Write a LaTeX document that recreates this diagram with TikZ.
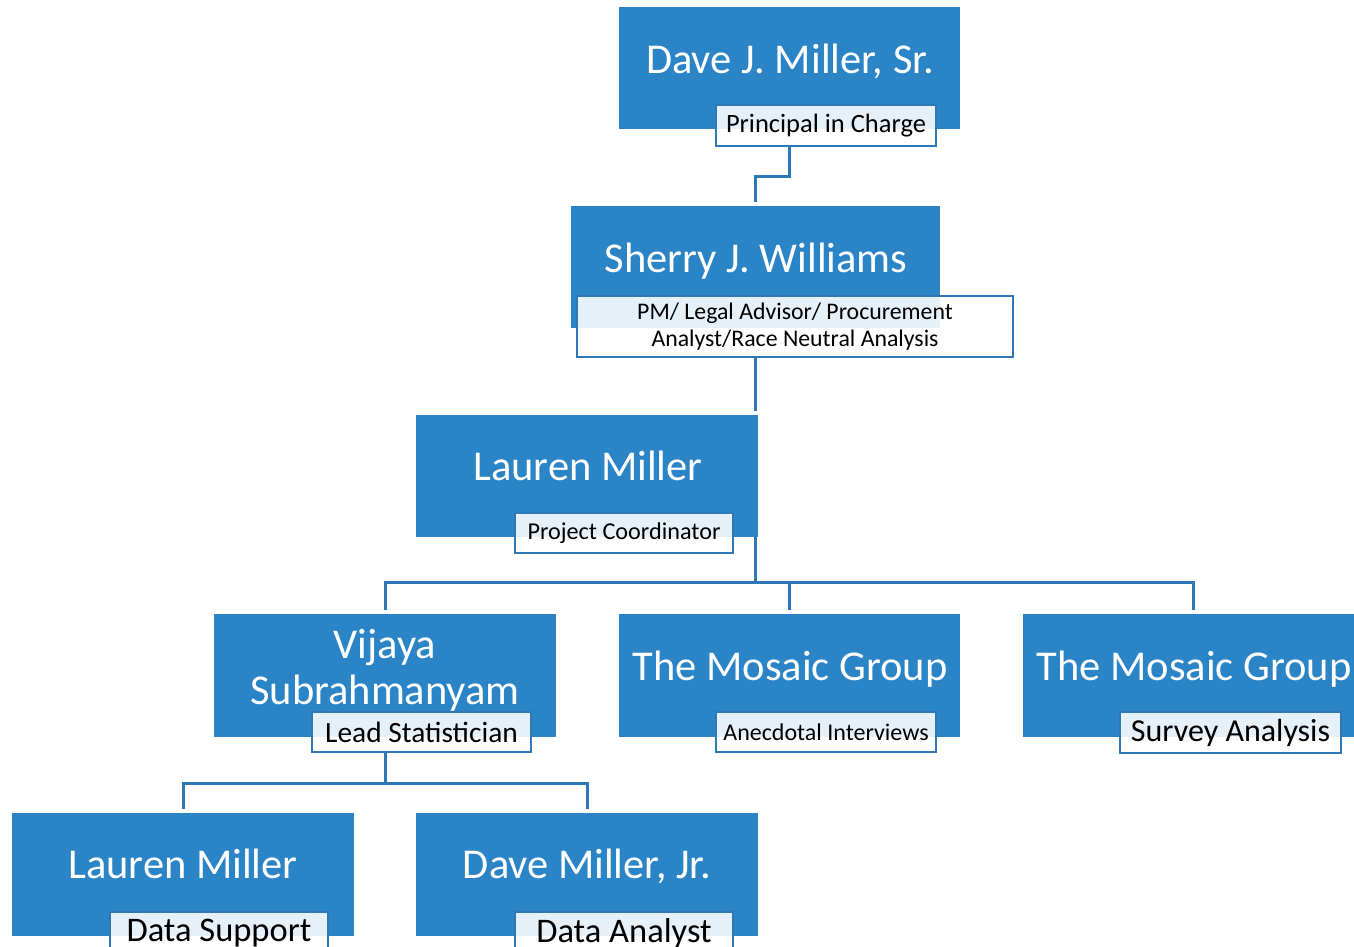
\documentclass[tikz,border=0pt]{standalone}
\usepackage{fontspec}
\setmainfont{Carlito}
\definecolor{boxblue}{HTML}{2A84C6}
\definecolor{tint}{HTML}{E6F0F8}
\definecolor{lineblue}{HTML}{2E78B8}
\begin{document}
\begin{tikzpicture}[x=1pt,y=-1pt,
  box/.style={fill=boxblue, inner sep=0pt},
  namet/.style={text=white, font=\fontsize{42.5}{46}\selectfont, anchor=base, inner sep=0pt},
  lab/.style={fill=white, draw=lineblue, line width=2.5pt, inner sep=0pt, text=black,
    path picture={\fill[tint] (#1.south west) rectangle (#1.north east);}},
  conn/.style={draw=lineblue, line width=3pt},
]
\useasboundingbox (0,0) rectangle (1354,946);
\clip (0,0) rectangle (1354,946);

% boxes
\node[box, minimum width=341pt, minimum height=122pt] (b1) at (789.5,68) {};
\node[box, minimum width=369pt, minimum height=122pt] (b2) at (755.5,267) {};
\node[box, minimum width=342pt, minimum height=122pt] (b3) at (587,476) {};
\node[box, minimum width=342pt, minimum height=123pt] (b4) at (385,675.5) {};
\node[box, minimum width=341pt, minimum height=123pt] (b5) at (789.5,675.5) {};
\node[box, minimum width=341pt, minimum height=123pt] (b6) at (1193.5,675.5) {};
\node[box, minimum width=342pt, minimum height=123pt] (b7) at (183,874.5) {};
\node[box, minimum width=342pt, minimum height=123pt] (b8) at (587,874.5) {};

% labels
\node[lab=b1, minimum width=220pt, minimum height=41pt, font=\fontsize{26.5}{30}\selectfont] (l1) at (826,125.5) {Principal in Charge};
\node[lab=b2, minimum width=436pt, minimum height=61pt, align=center, font=\fontsize{23.8}{27}\selectfont] (l2) at (795,326.5) {PM/ Legal Advisor/ Procurement\\Analyst/Race Neutral Analysis};
\node[lab=b3, minimum width=218pt, minimum height=40pt, font=\fontsize{24.2}{28}\selectfont] (l3) at (624,533) {Project Coordinator};
\node[lab=b4, minimum width=219pt, minimum height=40pt, font=\fontsize{29.4}{32}\selectfont] (l4) at (421.5,732) {Lead Statistician};
\node[lab=b5, minimum width=220pt, minimum height=40pt, font=\fontsize{24}{28}\selectfont] (l5) at (826,732) {Anecdotal Interviews};
\node[lab=b6, minimum width=221pt, minimum height=41pt, font=\fontsize{32}{34}\selectfont] (l6) at (1230.5,732.5) {Survey Analysis};
\node[lab=b7, minimum width=218pt, minimum height=42pt, font=\fontsize{34.5}{36}\selectfont] (l7) at (219,933) {Data Support};
\node[lab=b8, minimum width=218pt, minimum height=42pt, font=\fontsize{34.5}{36}\selectfont] (l8) at (624,933) {Data Analyst};

% names
\node[namet] (n1) at (790,73) {Dave J. Miller, Sr.};
\node[namet] (n2) at (756,272) {Sherry J. Williams};
\node[namet] (n3) at (588,480) {Lauren Miller};
\node[namet, anchor=center, align=center] (n4) at (385,670) {Vijaya\\Subrahmanyam};
\node[namet] (n5) at (790,680) {The Mosaic Group};
\node[namet] (n6) at (1194,680) {The Mosaic Group};
\node[namet] (n7) at (183,878) {Lauren Miller};
\node[namet] (n8) at (587,878) {Dave Miller, Jr.};

% connectors
\draw[conn, shorten >=4pt] (b1.south |- l1.south) -- ++(0,29) -| (b2.north);
\draw[conn, shorten >=4pt] (b2.south |- l2.south) -- (b2.south |- b3.north);
\path (b2.south |- b3.south) ++(0,45) coordinate (j1);
\draw[conn] (b2.south |- b3.south) -- (j1);
\draw[conn, shorten >=4pt] (j1) -| (b4.north);
\draw[conn, shorten >=4pt] (j1) -| (b5.north);
\draw[conn, shorten >=4pt] (j1) -| (b6.north);
\path (b4.south |- l4.south) ++(0,30) coordinate (j2);
\draw[conn] (b4.south |- l4.south) -- (j2);
\draw[conn, shorten >=4pt] (j2) -| (b7.north);
\draw[conn, shorten >=4pt] (j2) -| (b8.north);
\end{tikzpicture}
\end{document}
